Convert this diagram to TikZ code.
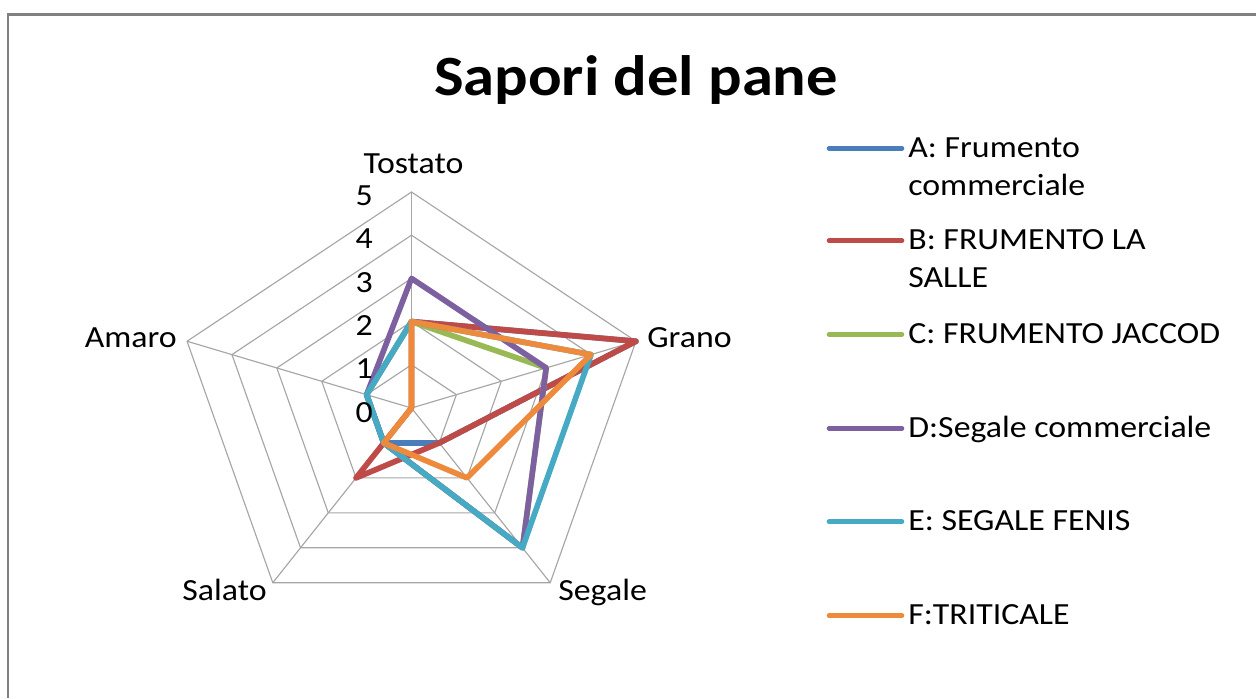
\documentclass[tikz,border=0pt]{standalone}
\usepackage{fontspec}
\setmainfont{Carlito}[FakeStretch=1.1]
\usepackage{tikz}
\usepackage{xcolor}

\definecolor{serA}{HTML}{4A7EBB}
\definecolor{serB}{HTML}{BE4B48}
\definecolor{serC}{HTML}{98B954}
\definecolor{serD}{HTML}{7D60A0}
\definecolor{serE}{HTML}{46AAC5}
\definecolor{serF}{HTML}{EE8A3C}

\begin{document}
\begin{tikzpicture}[scale=0.2]
\tikzstyle{every node}+=[inner sep=0pt, font=\fontsize{17.5}{21.4}\selectfont]
\tikzstyle{gridline}=[draw=black!35, line width=0.65pt]
\tikzstyle{series}=[line width=3.2pt, line join=round]
\tikzstyle{key}=[line width=2.6pt, line cap=round]
\useasboundingbox (0,0) rectangle (125.6,-69.8);
% cornice del grafico
\draw [black!50, line width=1.7pt] (0.8,-69.8) -- (0.8,-1.45) -- (125.6,-1.45);
\draw (63.6,-9.5) node [anchor=base, font=\bfseries\fontsize{32.4}{38}\selectfont] (titolo) {Sapori del pane};
% radar
\begin{scope}[shift={(41.15,-40.8)}, xscale=4.72, yscale=4.32]
\foreach \r in {1,...,5}
  \draw [gridline] (90:\r) -- (18:\r) -- (-54:\r) -- (-126:\r) -- (162:\r) -- cycle;
\foreach \a in {90,18,-54,-126,162}
  \draw [gridline] (0,0) -- (\a:5);
\draw [series, serA] (90:2) -- (18:5) -- (-54:1) -- (-126:1) -- (162:1) -- cycle;
\draw [series, serB] (90:2) -- (18:5) -- (-54:1) -- (-126:2) -- (162:0) -- cycle;
\draw [series, serC] (90:2) -- (18:3) -- (-54:4) -- (-126:1) -- (162:1) -- cycle;
\draw [series, serD] (90:3) -- (18:3) -- (-54:4) -- (-126:1) -- (162:1) -- cycle;
\draw [series, serE] (90:2) -- (18:4) -- (-54:4) -- (-126:1) -- (162:1) -- cycle;
\draw [series, serF] (90:2) -- (18:4) -- (-54:2) -- (-126:1) -- (162:0) -- cycle;
\end{scope}
% scala
\draw (37.3,-41.25) node [anchor=east] (s0) {0};
\draw (37.3,-36.9) node [anchor=east] (s1) {1};
\draw (37.3,-32.6) node [anchor=east] (s2) {2};
\draw (37.3,-28.3) node [anchor=east] (s3) {3};
\draw (37.3,-23.9) node [anchor=east] (s4) {4};
\draw (37.3,-19.6) node [anchor=east] (s5) {5};
% assi
\draw (41.35,-17.3) node [anchor=base] (tostato) {Tostato};
\draw (64.7,-34.7) node [anchor=base west] (grano) {Grano};
\draw (55.8,-60.0) node [anchor=base west] (segale) {Segale};
\draw (26.7,-60.0) node [anchor=base east] (salato) {Salato};
\draw (17.7,-34.7) node [anchor=base east] (amaro) {Amaro};
% legenda
\draw [key, serA] (82.9,-14.83) -- (90.2,-14.83);
\draw (90.8,-19.5) node [anchor=base west, align=left] (legA) {A: Frumento\\commerciale};
\draw [key, serB] (82.9,-24.07) -- (90.2,-24.07);
\draw (90.8,-28.74) node [anchor=base west, align=left] (legB) {B: FRUMENTO LA\\SALLE};
\draw [key, serC] (82.9,-33.43) -- (90.2,-33.43);
\draw (90.8,-34.33) node [anchor=base west] (legC) {C: FRUMENTO JACCOD};
\draw [key, serD] (82.9,-42.83) -- (90.2,-42.83);
\draw (90.8,-43.73) node [anchor=base west] (legD) {D:Segale commerciale};
\draw [key, serE] (82.9,-52.17) -- (90.2,-52.17);
\draw (90.8,-53.07) node [anchor=base west] (legE) {E: SEGALE FENIS};
\draw [key, serF] (82.9,-61.57) -- (90.2,-61.57);
\draw (90.8,-62.47) node [anchor=base west] (legF) {F:TRITICALE};
\end{tikzpicture}
\end{document}
